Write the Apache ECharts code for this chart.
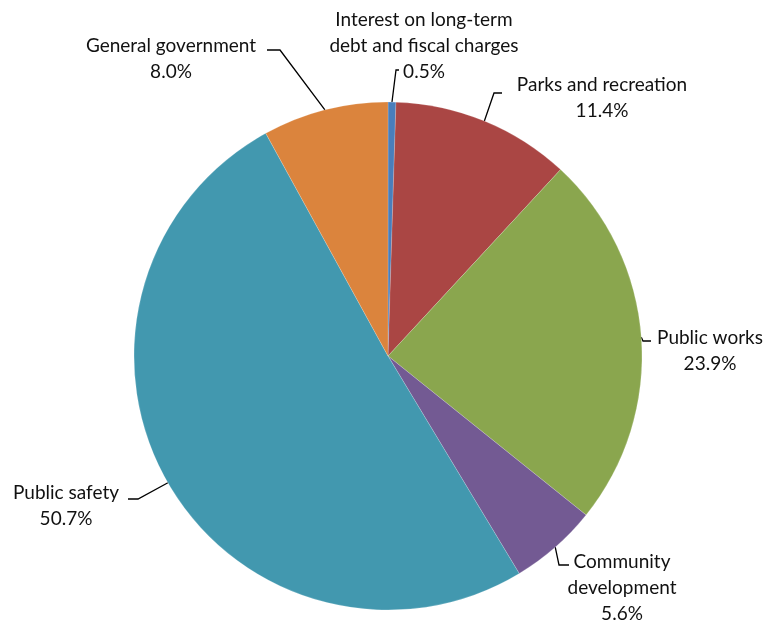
<!DOCTYPE html>
<html>
<head>
<meta charset="utf-8">
<script src="https://cdn.jsdelivr.net/npm/echarts@6/dist/echarts.min.js"></script>
<style>
  html, body { margin: 0; padding: 0; background: #ffffff; }
  #chart { width: 769px; height: 622px; }
</style>
</head>
<body>
<div id="chart"></div>
<script>
// Expense categories, clockwise from 12 o'clock
const categories = [
  'Interest on long-term\ndebt and fiscal charges',
  'Parks and recreation',
  'Public works',
  'Community\ndevelopment',
  'Public safety',
  'General government'
];
// Share of total expenses (%)
const shares = [0.5, 11.4, 23.9, 5.6, 50.7, 8.0];
const sliceColors = ['#4A7EBB', '#AA4644', '#8AA64E', '#735A93', '#4298AF', '#DB843D'];

// Label placement: block centre plus leader-line elbow and end
const labelSpots = [
  { x: 424, y: 46,  elbow: [396, 70],  end: [399, 70] },
  { x: 602, y: 98,  elbow: [494, 93],  end: [502, 93] },
  { x: 710, y: 351, elbow: [643, 341], end: [651, 341] },
  { x: 622, y: 588, elbow: [559, 565], end: [569, 565] },
  { x: 66,  y: 506, elbow: [138, 499], end: [128, 499] },
  { x: 171, y: 59,  elbow: [280, 50],  end: [267, 50] }
];

const chart = echarts.init(document.getElementById('chart'), null, { renderer: 'canvas' });

chart.setOption({
  animation: false,
  series: [{
    type: 'pie',
    center: [388, 356],
    radius: 254,
    startAngle: 90,
    clockwise: true,
    data: categories.map((name, i) => ({
      name: name,
      value: shares[i],
      itemStyle: { color: sliceColors[i] }
    })),
    itemStyle: { borderColor: 'rgba(255,255,255,0.35)', borderWidth: 0.5 },
    label: {
      show: true,
      position: 'outside',
      formatter: p => p.name + '\n' + p.value.toFixed(1) + '%',
      fontFamily: 'Lato',
      fontSize: 19,
      lineHeight: 26,
      color: '#111111',
      align: 'center',
      overflow: 'none',
      width: 260
    },
    labelLine: {
      show: true,
      lineStyle: { color: '#000000', width: 1.3 }
    },
    labelLayout: function (params) {
      const s = labelSpots[params.dataIndex];
      const start = params.labelLinePoints ? params.labelLinePoints[0] : s.elbow;
      return {
        x: s.x,
        y: s.y,
        align: 'center',
        verticalAlign: 'middle',
        labelLinePoints: [start, s.elbow, s.end]
      };
    },
    emphasis: { disabled: true }
  }]
});
</script>
</body>
</html>
